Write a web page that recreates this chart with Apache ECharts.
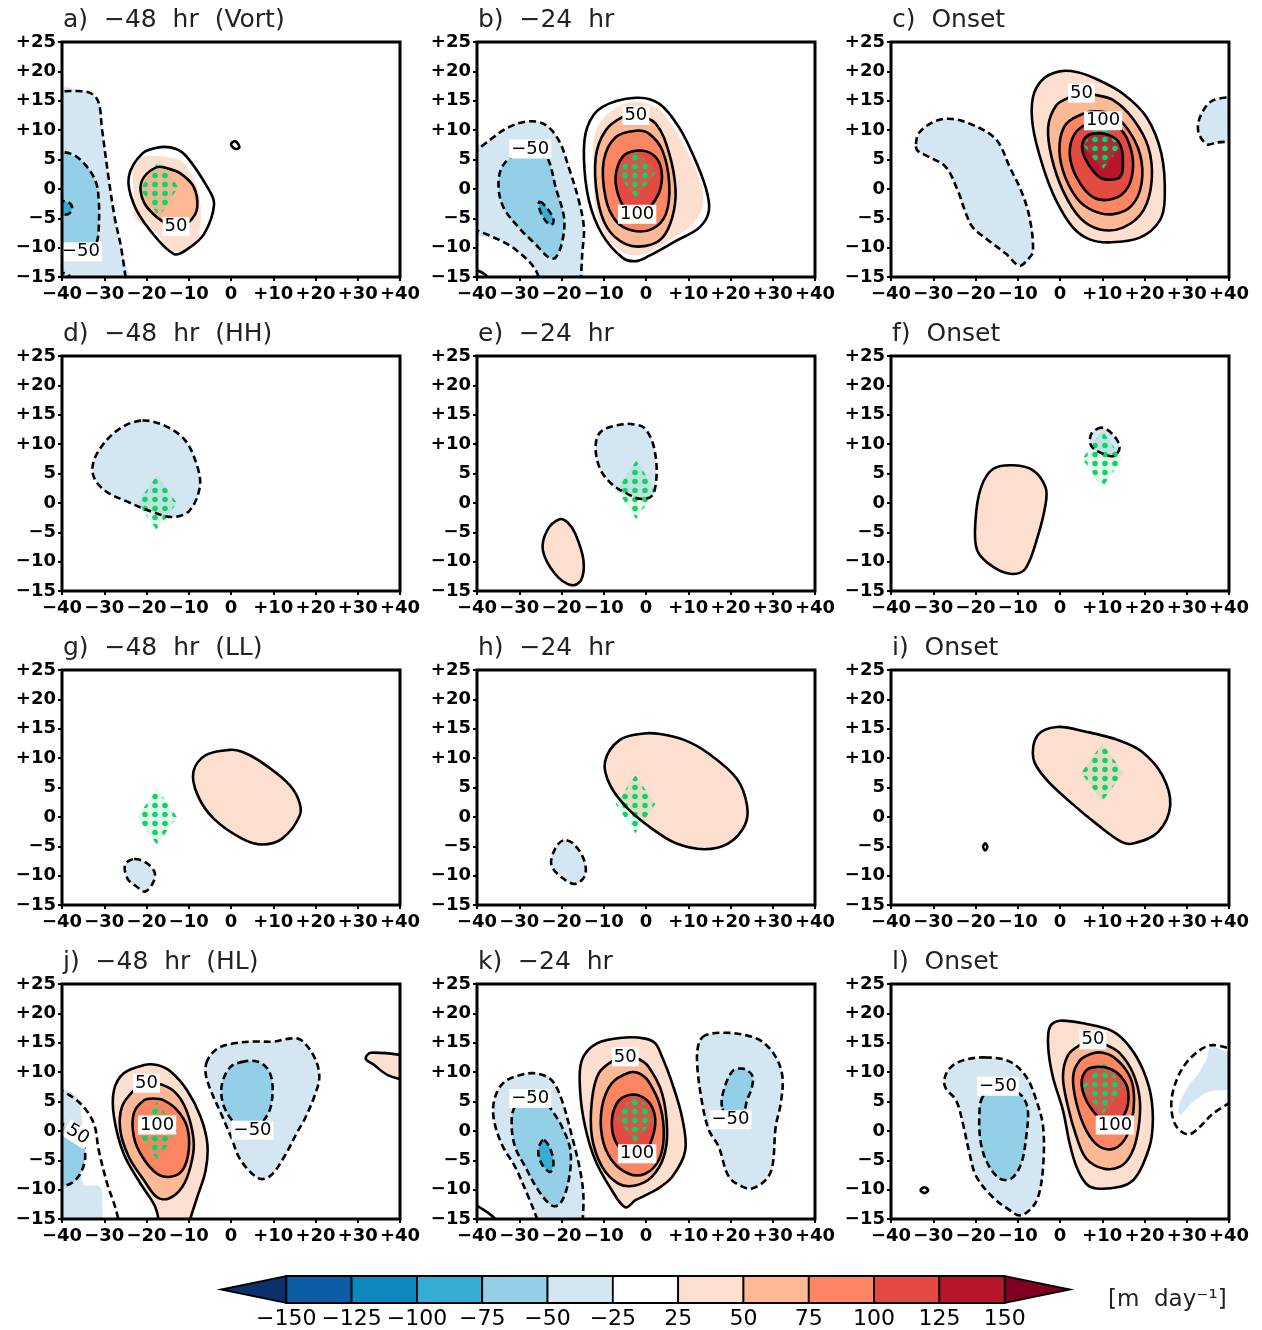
<!DOCTYPE html>
<html>
<head>
<meta charset="UTF-8">
<title>Composite anomalies</title>
<script src="https://cdn.jsdelivr.net/npm/echarts/dist/echarts.min.js"></script>
<style>
  html, body { margin: 0; background: #fff; }
  #chart { width: 1262px; height: 1330px; }
</style>
</head>
<body>
<div id="chart"></div>
<script>
// colour bar
var cbTicks = [-150, -125, -100, -75, -50, -25, 25, 50, 75, 100, 125, 150];
var cbColors = ['#0b5da5', '#0c88bf', '#35add6', '#94cfe8', '#d3e6f2', '#ffffff',
                '#fddfcf', '#fdb896', '#fc8562', '#e34a42', '#b7152c'];
var cbUnder = '#0b306b', cbOver = '#7f0021';
var unitText = '[m  day\u207b\u00b9]';

// axis ticks and their labels
var xTickVals = [-40, -30, -20, -10, 0, 10, 20, 30, 40];
var xTickLabels = ['\u221240', '\u221230', '\u221220', '\u221210', '0', '+10', '+20', '+30', '+40'];
var yTickVals = [-15, -10, -5, 0, 5, 10, 15, 20, 25];
var yTickLabels = ['\u221215', '\u221210', '\u22125', '0', '5', '+10', '+15', '+20', '+25'];

var titles = ['a)  \u221248  hr  (Vort)', 'b)  \u221224  hr', 'c)  Onset',
              'd)  \u221248  hr  (HH)', 'e)  \u221224  hr', 'f)  Onset',
              'g)  \u221248  hr  (LL)', 'h)  \u221224  hr', 'i)  Onset',
              'j)  \u221248  hr  (HL)', 'k)  \u221224  hr', 'l)  Onset'];

// ---- a) -48 hr (Vort)
var a_p50 = [[-17.5,3.7],[-20.6,2],[-21.4,-0.3],[-19.8,-3.2],[-15.1,-6],[-12,-6.2],[-9.6,-5.4],[-8,-3.2],[-8.8,0.3],[-11.9,2.6],[-15.1,3.5]];
var a_p25 = [[-16.7,7.1],[-21,6],[-24.2,2],[-23,-2.6],[-19.1,-7.1],[-13.5,-11.1],[-10.4,-10.3],[-6.4,-7.7],[-4,-2.6],[-5.6,0.3],[-10.4,5.4],[-13,6.8]];
var fillA = [
  [-25, [[-45,16.5],[-34,16.5],[-31.5,15],[-30.5,10],[-29,2],[-27.5,-5],[-26,-10],[-24.6,-17],[-45,-17]]],
  [-50, [[-45,6.2],[-40,6.2],[-35,4.5],[-32.1,1.4],[-31.3,-2],[-31.3,-6.6],[-31.7,-8.9],[-33,-10.5],[-45,-10.8]]],
  [-75, [[-42,-2],[-38.5,-2.3],[-37.6,-3.2],[-38.5,-4.3],[-42,-4.3]]],
  [25, [[-22.6,5],[-12.5,5],[-9.5,2.5],[-7.5,-1],[-7.5,-7.5],[-10,-10.3],[-15,-10.3],[-17.5,-7.5],[-22.6,-5],[-23,0]]],
  [50, a_p50]
];
var lineA = [
  [-25, [[-42,16.5],[-34,16.5],[-31.5,15],[-30.5,10],[-29,2],[-27.5,-5],[-26,-10],[-24.6,-17]], 1],
  [-50, [[-42,6.3],[-38,6],[-35,4.5],[-32.1,1.4],[-31.3,-2],[-31.3,-6.6],[-31.7,-8.9],[-32.8,-10.3]], 1],
  [-75, [[-41,-2],[-38.5,-2.3],[-37.6,-3.2],[-38.5,-4.3],[-41,-4.3]], 1],
  [-75, [[-41,-14.2],[-38.5,-14.6],[-37.6,-16]], 1],
  [25, a_p25],
  [50, a_p50],
  [25, [[0,7.6],[1,8.1],[2,7.1],[1,6.8]]]
];
var textA = [[-35.5,-10.7,'\u221250'],[-13,-6.4,'50']];
var dotA = [[-17,5],[-12.5,0.3],[-17,-4.8],[-21.5,0]];

// ---- b) -24 hr
var b_n25a = [[-41,6],[-37.2,8.2],[-32.5,10.5],[-27.7,11.5],[-23.8,10.9],[-20.6,8.2],[-18.3,3.7],[-15.9,-2],[-14.7,-6.6],[-15.1,-11.1],[-15.5,-17]];
var b_n25b = [[-41,-6.8],[-35,-8.6],[-30.9,-10.3],[-26.2,-13.7],[-24.8,-17]];
var b_n50 = [[-30.9,5.9],[-34.1,3.7],[-34.9,0.3],[-33.7,-3.2],[-30.1,-6.6],[-26.2,-9.4],[-23,-11.7],[-21.4,-11.7],[-19.8,-8.9],[-19.4,-4.9],[-21.4,0.3],[-23,4.8],[-24.6,6.2],[-27.5,6.8]];
var b_n75 = [[-25.2,-2.2],[-24,-2.8],[-22,-4.9],[-22,-5.9],[-23,-6],[-24.6,-4.5],[-25.4,-2.8]];
var b_p25 = [[-2.4,15.5],[-10.4,13.9],[-13.9,10.5],[-14.7,5.4],[-13.5,-2],[-10.4,-7.7],[-5.6,-11.7],[-2.4,-12.3],[0.7,-11.4],[7,-8.9],[12.6,-6.6],[14.9,-3.7],[14.1,0.3],[11,6],[7.8,10.5],[3.1,14.5]];
var b_p50 = [[-5.6,12.2],[-9.6,9.9],[-11.9,5.4],[-11.5,-1.5],[-9.2,-6.6],[-4.8,-9.4],[0,-9.7],[3.9,-8.3],[6.2,-4.9],[7,-0.3],[5.5,6],[2.3,11.1],[-2.4,12.6]];
var b_p75 = [[-2.4,9.9],[-7.2,8.8],[-10,4.8],[-9.6,-1.4],[-7.2,-5.4],[-3.2,-7.1],[1.5,-6.8],[4.7,-4.3],[5.5,0.9],[3.9,6.5],[0.7,9.4]];
var b_p100 = [[-2.4,6.5],[-5.6,5.4],[-7.2,2],[-6.4,-1.4],[-4.5,-3.5],[-1,-4],[1.5,-2.6],[3.5,0.3],[3.5,3.7],[1.5,5.9]];
var fillB = [
  [-25, [[-45,5.5]].concat(b_n25a.slice(1), b_n25b.slice().reverse().slice(0, 4), [[-45,-6.5]])],
  [-50, b_n50],
  [-75, b_n75],
  [25, [[-3,14.8],[-9,12.8],[-12.3,9],[-12.3,3],[-12,-3],[-9.5,-8],[-5,-11],[0,-11],[6,-8.5],[11,-6],[13.4,-3],[13,1],[10,6],[6.5,10.5],[2.5,13.8]]],
  [50, b_p50],
  [75, b_p75],
  [100, b_p100]
];
var lineB = [
  [-25, b_n25a, 1], [-25, b_n25b, 1], [-50, b_n50], [-75, b_n75],
  [25, [[-41,-13.6],[-38,-14.6],[-37,-16]], 1],
  [25, b_p25], [50, b_p50], [75, b_p75], [100, b_p100]
];
var textB = [[-27.4,6.8,'\u221250'],[-2.4,12.5,'50'],[-2.1,-4.3,'100']];
var dotB = [[-2.4,6.7],[2.4,2.8],[-2.4,-1.6],[-7,2.8]];

// ---- c) Onset
var c_n25 = [[-34.1,7.6],[-33.3,9.6],[-29.3,11.6],[-25.4,11.9],[-21.4,11.1],[-16.7,9.4],[-14.3,7.6],[-11.9,3.7],[-9.2,-0.3],[-7.2,-4.9],[-6.4,-10.6],[-7.6,-12],[-9.6,-13.1],[-12.7,-11.1],[-16.7,-8.9],[-20.6,-6.6],[-22.2,-4.3],[-24.2,-0.3],[-27,3.7],[-30.9,5.4],[-33.7,6.5]];
var c_n25r = [[42,15.6],[36.3,15.1],[33.5,12.8],[32.7,9.9],[34.7,7.6],[37.1,7.9],[42,8.1]];
var c_p25 = [[-0.1,20],[-4,18.7],[-6.4,15.6],[-6.4,10.5],[-4,3.7],[-0.9,-2],[3.1,-6.6],[7,-8.6],[11.8,-9.1],[18.9,-8.3],[23.6,-5.4],[24.8,-1.5],[24,6],[20.5,12.2],[14.9,16.2],[8.6,18.7],[3.9,19.9]];
var c_p50 = [[2.3,15.6],[-0.9,14.2],[-2.8,10.5],[-2,5.4],[0.7,-0.3],[4.7,-4.9],[9.4,-6.9],[14.9,-6.6],[19.7,-3.7],[21.7,1.4],[20.9,7.1],[17.3,11.9],[12.6,15.1],[8.2,16],[5,16.2]];
var c_p75 = [[5.5,12.8],[1.5,11.1],[-0.1,7.6],[0.7,3.1],[3.9,-1.5],[7.8,-3.7],[12.6,-4.3],[16.9,-2.9],[19.3,0.9],[18.9,6],[15.7,10.5],[11.8,12.8],[8.6,13.2]];
var c_p100 = [[6.6,11.1],[3.5,9.4],[2.3,6],[3.9,2],[7.8,-1.4],[12.6,-1.7],[16.1,0.3],[17.3,4.2],[16.1,8.2],[13.8,10.5],[10.2,11.6]];
var c_p125 = [[7.8,9.4],[5.5,8.2],[5.5,6],[7.8,3.1],[10.2,1.7],[14.2,2],[14.9,4.8],[14.2,7.6],[11.8,9.1]];
var fillC = [[-25, c_n25], [-25, c_n25r], [25, c_p25], [50, c_p50], [75, c_p75], [100, c_p100], [125, c_p125]];
var lineC = [[-25, c_n25], [-25, c_n25r, 1], [25, c_p25], [50, c_p50], [75, c_p75], [100, c_p100], [125, c_p125]];
var textC = [[5.1,16.3,'50'],[10.2,11.6,'100']];
var dotC = [[10,11.8],[14.7,7.5],[10,3.2],[5.4,7.5]];

// ---- d) -48 hr (HH)
var d_n25 = [[-21.3,14],[-27,12.3],[-31.8,8.3],[-32.7,4.9],[-29.9,2.1],[-24.2,0.1],[-18.4,-1.6],[-13.7,-2.4],[-9.8,-1.3],[-7.4,2.6],[-7.9,6],[-10.8,10.6],[-15.6,13.1]];
var fillD = [[-25, d_n25]];
var lineD = [[-25, d_n25]];
var textD = [];
var dotD = [[-17.5,4.7],[-12.8,0],[-17.5,-4.7],[-22.2,0]];

// ---- e) -24 hr
var e_n25 = [[-5.3,13.4],[-10.4,12.3],[-11.9,10],[-11,6],[-8.1,3.2],[-4.3,1.5],[-1.5,0.7],[1.4,1.2],[2.4,3.8],[2.4,7.2],[1.4,10.6],[-0.5,12.8],[-2.4,13.3]];
var e_p25 = [[-20.5,-2.8],[-23.4,-4.7],[-24.4,-8.1],[-21.5,-12.1],[-17.7,-14],[-15.4,-13.2],[-14.8,-9.8],[-16.7,-5.3],[-18.6,-3.3]];
var fillE = [[-25, e_n25], [25, e_p25]];
var lineE = [[-25, e_n25], [25, e_p25]];
var textE = [];
var dotE = [[-2.3,7.2],[2.3,2.2],[-2.3,-2.8],[-6.9,2.2]];

// ---- f) Onset
var f_n25 = [[9.9,12.8],[7.4,11.7],[7.4,9.7],[10.3,8.3],[12.8,8],[14.1,9.4],[12.8,11.4]];
var f_p25 = [[-11,6.4],[-15.8,5.8],[-18.7,2.6],[-20,-3],[-19.6,-8.1],[-15.8,-10.9],[-11.4,-12.1],[-8.2,-11.2],[-5.3,-5.8],[-3.4,-0.2],[-3.4,2.6],[-6.3,5.5]];
var fillF = [[-25, f_n25], [25, f_p25]];
var lineF = [[-25, f_n25], [25, f_p25]];
var textF = [];
var dotF = [[10,12.3],[14.7,7.5],[10,2.6],[5.3,7.5]];

// ---- g) -48 hr (LL)
var g_p25 = [[-0.3,11.4],[-6,10.5],[-8.9,7.7],[-7.9,3.7],[-4.1,-0.3],[2.6,-3.7],[7.3,-4.7],[12.1,-3.7],[16.3,0.3],[15.9,3.1],[13.1,6],[6.4,9.7],[2.6,11.1]];
var g_n25 = [[-23.2,-7.2],[-25.1,-8.2],[-24.5,-10.5],[-22.3,-11.9],[-20.3,-12.7],[-18.4,-11.1],[-18.1,-9.4],[-20.3,-7.7]];
var fillG = [[25, g_p25], [-25, g_n25]];
var lineG = [[25, g_p25], [-25, g_n25]];
var textG = [];
var dotG = [[-17.5,4.8],[-12.8,0],[-17.5,-4.8],[-22.2,0]];

// ---- h) -24 hr
var h_p25 = [[-0.5,14.2],[-6.2,13.1],[-9.7,9.4],[-8.5,5.4],[-4.3,1.4],[1.4,-2],[7.1,-4.5],[13.8,-5.5],[19.5,-4.5],[23.4,-1.4],[23.9,2],[21.5,6.5],[14.8,10.8],[9,13.1],[3.3,14.1]];
var h_n25 = [[-19.6,-4],[-21.5,-5.4],[-22.4,-8.2],[-19.6,-10.5],[-16.7,-11.4],[-14.4,-9.9],[-14.8,-7.1],[-17.3,-4.5]];
var fillH = [[25, h_p25], [-25, h_n25]];
var lineH = [[25, h_p25], [-25, h_n25]];
var textH = [];
var dotH = [[-2.5,7.1],[2.2,2.2],[-2.5,-2.8],[-7.2,2.2]];

// ---- i) Onset
var i_p25 = [[-0.6,15.3],[-5.3,13.9],[-6.3,9.9],[-3.4,6.5],[2.3,2.6],[9,-1.4],[14.7,-4.3],[17.5,-4.5],[23.2,-2.6],[26.1,2],[24.2,7.1],[19.4,11.1],[13.7,13.1],[6.1,14.5]];
var fillI = [[25, i_p25]];
var lineI = [[25, i_p25], [25, [[-17.7,-4.5],[-17.2,-5.1],[-17.7,-5.7],[-18.2,-5.1]]]];
var textI = [];
var dotI = [[10,12.5],[15,7.5],[10,2.6],[5,7.5]];

// ---- j) -48 hr (HL)
var j_n25L = [[-41,7.3],[-35.7,4.7],[-32.5,1.3],[-31.3,-3.3],[-29.3,-9],[-27.4,-13],[-26,-17]];
var j_n50L = [[-41,1.5],[-37.5,0.2],[-35.5,-1.3],[-34.5,-4.4],[-35.7,-7.3],[-38,-9],[-41,-9.5]];
var j_n25R = [[-5.6,12],[-6,9.8],[-4.8,6.9],[-2.4,3],[0,-1],[2.3,-5],[6.6,-8.1],[9.4,-7.6],[12.6,-4.4],[15.7,-0.2],[17.3,1.8],[19.7,5.8],[20.9,9.2],[19.7,12.6],[16.5,15.5],[13.8,15.7],[10.2,15.2],[5.5,15.2],[0.7,14.9],[-3.2,14]];
var j_n50R = [[3.1,11.8],[-0.1,10.9],[-2.1,8.1],[-2.1,5.2],[-0.9,3],[0.7,1.5],[3.5,0.3],[6,0.5],[7.8,1.8],[9.4,4.1],[9.8,8.1],[8.6,10.6],[6.2,11.8]];
var j_p25 = [[-16.8,-17],[-17.9,-13],[-21.4,-9],[-25.4,-3.9],[-27.7,2.4],[-27.7,6.9],[-25.4,9.8],[-20.6,11.2],[-17.5,11.2],[-14.3,10.1],[-10.4,6.9],[-7.2,2.4],[-5.6,-2.2],[-6,-6.7],[-8,-11.3],[-10.6,-17]];
var j_p50 = [[-23,6.9],[-25.8,4.1],[-26.2,0.1],[-24.2,-4.4],[-20.6,-8.4],[-17.5,-11.3],[-14.7,-11.5],[-11.5,-9.5],[-9.6,-6.1],[-8.8,-2.2],[-10,2.4],[-12.3,5.8],[-15.1,7.5],[-20,8.3]];
var j_p75 = [[-20.6,5.2],[-23,3],[-23,-1],[-21,-4.4],[-17.5,-7.3],[-14.3,-7.8],[-11.5,-6.7],[-10,-3.3],[-10.4,0.7],[-12.7,3.5],[-15.9,5.2],[-18.3,5.5]];
var j_p25R = [[42,12.7],[33.1,13.3],[31.9,12.3],[33.9,11.2],[37.1,9.5],[42,8.5]];
var fillJ = [
  [-25, [[-45,7],[-37,6.2],[-35.5,3],[-35,-2],[-35,-9],[-31,-9.5],[-30.5,-13],[-31,-17],[-45,-17]]],
  [-50, [[-45,1],[-37.5,0.2],[-35,-2],[-34.5,-4.4],[-35.7,-7.3],[-38,-9],[-45,-9.5]]],
  [-25, j_n25R], [-50, j_n50R],
  [25, j_p25], [50, j_p50], [75, j_p75], [25, j_p25R]
];
var lineJ = [
  [-25, j_n25L, 1], [-50, j_n50L, 1], [-25, j_n25R], [-50, j_n50R],
  [25, j_p25, 1], [50, j_p50], [75, j_p75], [25, j_p25R, 1]
];
var textJ = [[-36.3,-0.6,'50',-32],[-20,8.1,'50'],[-17.5,1,'100'],[5.1,0.1,'\u221250']];
var dotJ = [[-17.5,5],[-12.7,0],[-17.5,-5],[-22.3,0]];

// ---- k) -24 hr
var k_n25L = [[-25.3,-17],[-25.8,-15],[-27.8,-11.3],[-31,-6.1],[-34.2,-2.2],[-36.1,2.4],[-35.7,5.8],[-33.4,8.4],[-28.6,9.7],[-25.4,9.7],[-22.3,8.6],[-19.9,5.2],[-17.5,-1],[-15.6,-6.7],[-14.8,-11.3],[-15.2,-17]];
var k_n50L = [[-31,4.1],[-31.8,1.3],[-31,-2.7],[-28.6,-6.1],[-25.5,-10.1],[-22.3,-12.7],[-20.3,-12.4],[-18.3,-8.4],[-17.9,-3.3],[-19.9,0.7],[-22.3,3.5],[-23.9,4.9],[-27.4,5.5]];
var k_n75L = [[-24.3,-1.6],[-25.5,-3.3],[-24.7,-5.6],[-22.7,-7],[-21.9,-5.6],[-22.7,-3]];
var k_n25R = [[14.1,16.3],[12.5,14.9],[12.1,11.5],[13.3,4.7],[14.9,0.1],[17.2,-2.7],[19.6,-7.8],[22.8,-9.5],[25.1,-9.8],[28.3,-8.4],[29.9,-6.1],[30.7,0.7],[31.9,4.7],[32.3,9.2],[30.7,12.6],[27.5,15.2],[23.6,16.3],[18.8,16.7]];
var k_n50R = [[18,4.1],[18.4,6.9],[20.4,10.1],[22.8,10.6],[25.1,9.5],[25.1,7.5],[23.9,5.2],[23.2,3.5],[20,1.9]];
var k_p25 = [[-0.2,15.7],[-4.9,15.9],[-11.6,14.9],[-15.2,12],[-15.6,6.9],[-14.4,0.7],[-12,-5],[-8.1,-10.1],[-4.9,-13],[-2.5,-11.8],[2.2,-10.1],[6.2,-7.8],[9.3,-3.3],[8.5,2.4],[6.2,8.1],[3.8,12.6],[2.2,14.9]];
var k_p50 = [[-7.7,12],[-11.2,9.8],[-12.8,5.2],[-12.8,-1],[-10.4,-6.1],[-6.5,-9],[-2.5,-9.3],[1.4,-7.8],[4.2,-4.4],[5,0.1],[3.8,6.4],[0.6,10.9],[-1.7,12.2],[-4.9,12.6]];
var k_p75 = [[-4.1,9.9],[-8.1,8.1],[-10.4,4.1],[-10.4,-1],[-8.1,-5],[-4.1,-7.3],[-0.2,-7.3],[3,-5],[4.2,-1],[3.4,4.1],[0.6,8.4],[-1.7,9.8]];
var k_p100 = [[-4.1,6.1],[-6.9,4.7],[-8.1,1.3],[-6.9,-2.2],[-4,-3.8],[-0.5,-3.6],[1,-2.2],[2.2,1.3],[1.4,4.1],[-0.9,5.8]];
var fillK = [[-25, k_n25L], [-50, k_n50L], [-75, k_n75L], [-25, k_n25R], [-50, k_n50R],
             [25, k_p25], [50, k_p50], [75, k_p75], [100, k_p100]];
var lineK = [[-25, k_n25L, 1], [-50, k_n50L], [-75, k_n75L], [-25, k_n25R], [-50, k_n50R],
             [25, [[-42,-11.6],[-40,-12.7],[-35.7,-15],[-35,-17]], 1],
             [25, k_p25], [50, k_p50], [75, k_p75], [100, k_p100]];
var textK = [[-27.4,5.5,'\u221250'],[-4.9,12.6,'50'],[-2.1,-3.9,'100'],[20,1.9,'\u221250']];
var dotK = [[-2.5,6.5],[2.2,2.3],[-2.5,-1.9],[-7.2,2.3]];

// ---- l) Onset
var l_n25L = [[-17.5,12.5],[-23,12],[-26.2,10.6],[-27.4,8.6],[-27,7.2],[-24.6,5.2],[-23,1.3],[-21.4,-3.9],[-19.8,-7.8],[-15.9,-11.3],[-11.9,-13.5],[-9.6,-14.4],[-7.2,-13.5],[-5.2,-11.3],[-4,-6.1],[-4,0.7],[-5.6,5.2],[-8,9.2],[-11.9,11.8]];
var l_n50L = [[-18.3,5.8],[-19.1,2.4],[-18.7,-2.2],[-17.1,-5.6],[-14.3,-8.1],[-11.5,-8.1],[-9.2,-5.6],[-8,-1],[-7.6,3.5],[-8.8,5.8],[-10.4,6.6],[-14.7,7.6]];
var l_n25R = [[42,13.6],[36.3,14.6],[33.1,13.75],[29.2,10.9],[26.8,6.9],[26.4,3.5],[27.6,0.7],[30.4,-0.6],[33.1,0.7],[36.3,3],[42,5.5]];
var l_p25 = [[-0.1,18.75],[-2.4,17.7],[-2.8,14.3],[-1.7,9.2],[0.7,3.5],[2.3,-2.2],[3.9,-6.1],[6.2,-9],[8.6,-9.8],[14.2,-9.5],[17.3,-8.4],[19.7,-5.6],[21.7,-1],[21.7,5.2],[19.7,10.3],[16.5,14.3],[12.6,16.9],[6.2,18.2]];
var l_p50 = [[4.7,14.6],[1.9,12.9],[0.7,9.2],[1.9,4.1],[3.9,-1],[6.2,-4.7],[10.2,-6.4],[14.2,-6.1],[16.9,-3.9],[18.5,0.1],[18.9,5.2],[17.3,9.8],[14.2,13.2],[11,14.6],[7.8,15.5]];
var l_p75 = [[7.8,13.2],[4.7,12],[3.1,9.2],[3.9,4.7],[6.2,0.1],[9.4,-2.7],[12.9,-3],[15.7,-1],[17.3,3],[17.3,7.5],[15.7,10.3],[12.6,12.6],[10.2,13.3]];
var l_p100 = [[8.6,10.9],[6.2,10.3],[5.1,8.1],[6.2,5.2],[8.6,2.7],[11,1.2],[13,1],[15.7,3.5],[16.1,6.9],[14.5,9.2],[11.8,10.6]];
var fillL = [[-25, l_n25L], [-50, l_n50L],
             [-25, [[35.5,14.2],[37.5,14],[41,12.5],[41,7.5],[35,6.6],[31,4.6],[28.5,2.7],[28,3.8],[30,7.2],[32.8,9.8],[34.8,12.4]]],
             [25, l_p25], [50, l_p50], [75, l_p75], [100, l_p100]];
var lineL = [[-25, l_n25L], [-50, l_n50L], [-25, l_n25R, 1],
             [25, [[-32.1,-9.6],[-31.2,-10.1],[-32.1,-10.6],[-33,-10.1]]],
             [25, l_p25], [50, l_p50], [75, l_p75], [100, l_p100]];
var textL = [[-14.7,7.6,'\u221250'],[7.8,15.5,'50'],[13,1,'100']];
var dotL = [[10,12],[15.3,7.5],[10,2.7],[5.3,7.5]];

var panelFills = [fillA, fillB, fillC, fillD, fillE, fillF, fillG, fillH, fillI, fillJ, fillK, fillL];
var panelLines = [lineA, lineB, lineC, lineD, lineE, lineF, lineG, lineH, lineI, lineJ, lineK, lineL];
var panelTexts = [textA, textB, textC, textD, textE, textF, textG, textH, textI, textJ, textK, textL];
var panelDots = [dotA, dotB, dotC, dotD, dotE, dotF, dotG, dotH, dotI, dotJ, dotK, dotL];

// layout
var colLeft = [62, 477, 891];
var rowTop = [42, 356, 670, 984];
var plotW = 338, plotH = 235;

function levelColor(L) {
  var i = cbTicks.indexOf(L);
  return L > 0 ? cbColors[i] : cbColors[i - 1];
}
function xLabel(v) { var i = xTickVals.indexOf(v); return i < 0 ? '' : xTickLabels[i]; }
function yLabel(v) { var i = yTickVals.indexOf(v); return i < 0 ? '' : yTickLabels[i]; }
function minus(v) { return v < 0 ? '\u2212' + (-v) : String(v); }

// green stipple pattern (as a data url string)
var dotCanvas = document.createElement('canvas');
dotCanvas.width = 10; dotCanvas.height = 9;
var dctx = dotCanvas.getContext('2d');
dctx.fillStyle = 'rgba(40,210,120,0.14)';
dctx.fillRect(0, 0, 10, 9);
dctx.fillStyle = '#14d066';
dctx.beginPath(); dctx.arc(5, 4.5, 2.8, 0, Math.PI * 2); dctx.fill();
var dotUrl = dotCanvas.toDataURL();

var grids = [], xAxes = [], yAxes = [], series = [], titleList = [];

function coords(api, pts) {
  var out = [];
  for (var n = 0; n < pts.length; n++) out.push(api.coord(pts[n]));
  return out;
}

for (var p = 0; p < 12; p++) {
  var gLeft = colLeft[p % 3], gTop = rowTop[Math.floor(p / 3)];
  grids.push({ left: gLeft, top: gTop, width: plotW, height: plotH, show: true,
               borderColor: '#000', borderWidth: 3, backgroundColor: 'transparent', z: 10 });
  xAxes.push({ gridIndex: p, type: 'value', min: -40, max: 40, interval: 10,
               axisLine: { show: false, onZero: false }, splitLine: { show: false },
               axisTick: { show: true, length: 4, lineStyle: { color: '#000', width: 2 } },
               axisLabel: { formatter: xLabel, margin: 8, color: '#000', fontSize: 18, fontWeight: 'bold', fontFamily: 'DejaVu Sans' } });
  yAxes.push({ gridIndex: p, type: 'value', min: -15, max: 25, interval: 5,
               axisLine: { show: false, onZero: false }, splitLine: { show: false },
               axisTick: { show: true, length: 4, lineStyle: { color: '#000', width: 2 } },
               axisLabel: { formatter: yLabel, margin: 6, color: '#000', fontSize: 18, fontWeight: 'bold', fontFamily: 'DejaVu Sans' } });
  titleList.push({ text: titles[p], left: gLeft + 1, top: gTop - 34, padding: 0,
                   textStyle: { fontSize: 25, fontWeight: 'normal', fontFamily: 'DejaVu Sans', color: '#222' } });

  (function (fills, lines, texts, dots, idx) {
    series.push({
      type: 'custom', xAxisIndex: idx, yAxisIndex: idx, clip: true, z: 2, silent: true,
      data: fills.map(function (f) { return f[1][0]; }),
      renderItem: function (params, api) {
        var f = fills[params.dataIndex];
        return { type: 'polygon', shape: { points: coords(api, f[1]), smooth: 0.35 },
                 style: { fill: levelColor(f[0]) } };
      }
    });
    series.push({
      type: 'custom', xAxisIndex: idx, yAxisIndex: idx, clip: true, z: 3, silent: true,
      data: [dots[0]],
      renderItem: function (params, api) {
        return { type: 'polygon', shape: { points: coords(api, dots) },
                 style: { fill: { type: 'pattern', image: dotUrl, repeat: 'repeat' } } };
      }
    });
    series.push({
      type: 'custom', xAxisIndex: idx, yAxisIndex: idx, clip: true, z: 4, silent: true,
      data: lines.map(function (l) { return l[1][0]; }),
      renderItem: function (params, api) {
        var l = lines[params.dataIndex];
        var st = { fill: 'none', stroke: '#000', lineWidth: 2.6 };
        if (l[0] < 0) st.lineDash = [7, 4];
        return { type: l[2] ? 'polyline' : 'polygon',
                 shape: { points: coords(api, l[1]), smooth: 0.35 }, style: st };
      }
    });
    series.push({
      type: 'custom', xAxisIndex: idx, yAxisIndex: idx, clip: false, z: 5, silent: true,
      data: texts.map(function (t) { return [t[0], t[1]]; }),
      renderItem: function (params, api) {
        var t = texts[params.dataIndex];
        var c = api.coord([t[0], t[1]]);
        return { type: 'text', x: c[0], y: c[1], rotation: (t[3] || 0) * Math.PI / 180,
                 style: { text: t[2], x: 0, y: 0, align: 'center', verticalAlign: 'middle',
                          font: '18px "DejaVu Sans"', fill: '#000',
                          backgroundColor: '#fff', padding: [1, 2, 0, 2] } };
      }
    });
  })(panelFills[p], panelLines[p], panelTexts[p], panelDots[p], p);
}

// colour bar grid
grids.push({ left: 221, top: 1276, width: 849, height: 28, show: false });
xAxes.push({ gridIndex: 12, type: 'value', min: -1, max: 12, interval: 1,
             axisLine: { show: false, onZero: false }, axisTick: { show: false }, splitLine: { show: false },
             axisLabel: { margin: 5, color: '#000', fontSize: 22, fontFamily: 'DejaVu Sans',
                          formatter: function (v) { return (v >= 0 && v < cbTicks.length) ? minus(cbTicks[v]) : ''; } } });
yAxes.push({ gridIndex: 12, type: 'value', min: 0, max: 1, show: false });
var cbData = [[-1, 0]];
for (var k = 0; k < cbColors.length; k++) cbData.push([k, 0]);
series.push({
  type: 'custom', xAxisIndex: 12, yAxisIndex: 12, silent: true, z: 2,
  data: cbData,
  renderItem: function (params, api) {
    var k = api.value(0);
    var n = cbColors.length;
    if (k < 0) {
      return { type: 'group', children: [
        { type: 'polygon', shape: { points: [api.coord([0, 0]), api.coord([0, 1]), api.coord([-1, 0.5])] },
          style: { fill: cbUnder, stroke: '#000', lineWidth: 1.8 } },
        { type: 'polygon', shape: { points: [api.coord([n, 0]), api.coord([n, 1]), api.coord([n + 1, 0.5])] },
          style: { fill: cbOver, stroke: '#000', lineWidth: 1.8 } }
      ] };
    }
    var p0 = api.coord([k, 1]), p1 = api.coord([k + 1, 0]);
    return { type: 'rect', shape: { x: p0[0], y: p0[1], width: p1[0] - p0[0], height: p1[1] - p0[1] },
             style: { fill: cbColors[k], stroke: '#000', lineWidth: 1.8 } };
  }
});
titleList.push({ text: unitText, left: 1108, top: 1289, padding: 0,
                 textStyle: { fontSize: 23, fontWeight: 'normal', fontFamily: 'DejaVu Sans', color: '#222' } });

var myChart = echarts.init(document.getElementById('chart'));
myChart.setOption({
  animation: false,
  backgroundColor: '#fff',
  title: titleList,
  grid: grids,
  xAxis: xAxes,
  yAxis: yAxes,
  series: series
});
</script>
</body>
</html>
